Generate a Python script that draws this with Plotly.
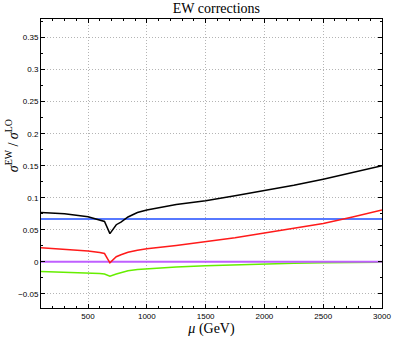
"""EW corrections ratio plot"""

import plotly.graph_objects as go

mu = [100, 300, 500, 600, 640, 686, 740, 780, 840, 920, 1000, 1250, 1500,
      1750, 2000, 2250, 2500, 2750, 3000]

black = [0.077, 0.075, 0.0705, 0.066, 0.063, 0.044, 0.058, 0.062, 0.070, 0.077,
         0.081, 0.0895, 0.0955, 0.103, 0.111, 0.1195, 0.129, 0.139, 0.150]
red = [0.022, 0.020, 0.017, 0.0145, 0.013, -0.0015, 0.008, 0.011, 0.015, 0.018,
       0.0205, 0.0255, 0.031, 0.0375, 0.045, 0.052, 0.060, 0.070, 0.081]
green = [-0.015, -0.016, -0.017, -0.018, -0.019, -0.0225, -0.019, -0.017, -0.014,
         -0.012, -0.011, -0.0082, -0.006, -0.0045, -0.003, -0.002, -0.0015, -0.001,
         -0.0005]
blue_level = 0.067
purple_level = 0.0

serif = "Liberation Serif"
sans = "Liberation Sans"

fig = go.Figure()

# flat lines first, curves on top
fig.add_trace(go.Scatter(x=[mu[0], mu[-1]], y=[blue_level] * 2, mode='lines',
                         line=dict(color='#1f4dff', width=1.5)))
fig.add_trace(go.Scatter(x=mu, y=green, mode='lines',
                         line=dict(color='#66ee00', width=1.5)))
fig.add_trace(go.Scatter(x=[mu[0], mu[-1]], y=[purple_level] * 2, mode='lines',
                         line=dict(color='#bf5fff', width=2)))
fig.add_trace(go.Scatter(x=mu, y=red, mode='lines',
                         line=dict(color='#ff1a1a', width=1.5)))
fig.add_trace(go.Scatter(x=mu, y=black, mode='lines',
                         line=dict(color='black', width=1.5)))

axis_common = dict(
    showline=True, linecolor='black', linewidth=1, mirror='ticks',
    ticks='inside', ticklen=4, tickcolor='black',
    showgrid=True, gridcolor='#b4b4b4', griddash='1px,2px', gridwidth=1,
    zeroline=False, tickfont=dict(family=sans, size=8, color='black'),
    ticklabeloverflow='allow',
)

fig.update_layout(
    width=403, height=343,
    margin=dict(l=41, r=12, t=19, b=30),
    paper_bgcolor='white', plot_bgcolor='white',
    showlegend=False,
    title=dict(text='EW corrections', x=0.537, xanchor='center', y=0.99,
               yanchor='top', font=dict(family=serif, size=14, color='black')),
    xaxis=dict(range=[100, 3000], tick0=500, dtick=500,
               minor=dict(dtick=100, ticks='inside', ticklen=2, tickcolor='black',
                          showgrid=False),
               title=dict(text='<i>μ</i> (GeV)', standoff=1,
                          font=dict(family=serif, size=14, color='black')),
               **axis_common),
    yaxis=dict(range=[-0.072, 0.379], tick0=0, dtick=0.05,
               minor=dict(dtick=0.025, ticks='inside', ticklen=2, tickcolor='black',
                          showgrid=False),
               **axis_common),
    annotations=[dict(
        text='<i>σ</i><sup>EW</sup> / <i>σ</i><sup>LO</sup>',
        xref='paper', yref='paper', x=-0.085, y=0.56,
        xanchor='center', yanchor='middle', textangle=-90, showarrow=False,
        font=dict(family=serif, size=14, color='black'),
    )],
)

# page body has a default margin; drop it so the figure sits at the window corner
fig.write_html("out.html", config={'staticPlot': True},
               post_script="document.body.style.margin='0';")
